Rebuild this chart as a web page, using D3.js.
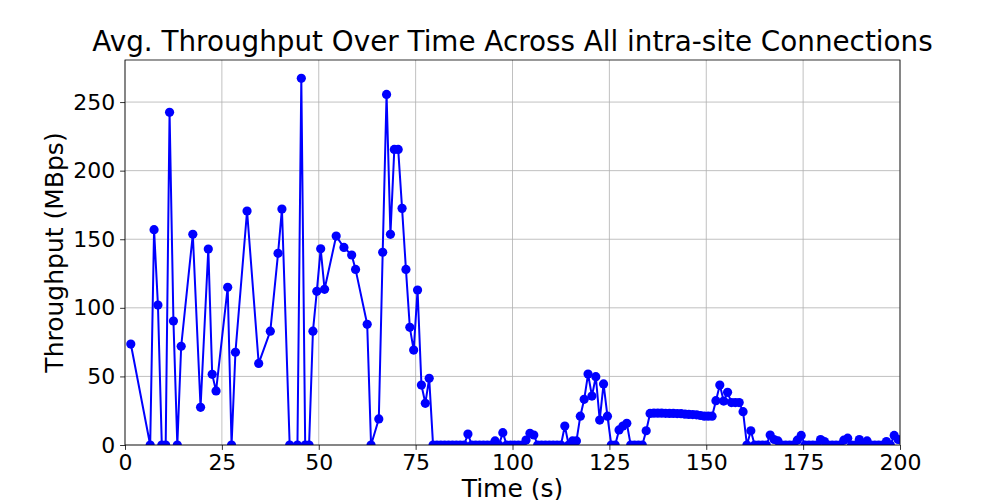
<!DOCTYPE html>
<html><head><meta charset="utf-8">
<script src="https://cdn.jsdelivr.net/npm/d3@7"></script>
<style>body{margin:0;background:#fff;} svg{display:block;font-family:"DejaVu Sans",sans-serif;}</style>
</head><body>
<svg id="c" width="1000" height="500"></svg>
<script>
const titleText = "Avg. Throughput Over Time Across All intra-site Connections";
const xLabel = "Time (s)";
const yLabel = "Throughput (MBps)";
const xTicks = [0, 25, 50, 75, 100, 125, 150, 175, 200];
const yTicks = [0, 50, 100, 150, 200, 250];
const times = [
 1.5, 6.5, 7.5, 8.5, 9.5, 10.5, 11.5, 12.5, 13.5, 14.5,
 17.5, 19.5, 21.5, 22.5, 23.5, 26.5, 27.5, 28.5, 31.5, 34.5,
 37.5, 39.5, 40.5, 42.5, 44.5, 45.5, 46.5, 47.5, 48.5, 49.5,
 50.5, 51.5, 54.5, 56.5, 58.5, 59.5, 62.5, 63.5, 65.5, 66.5,
 67.5, 68.5, 69.5, 70.5, 71.5, 72.5, 73.5, 74.5, 75.5, 76.5,
 77.5, 78.5, 79.5, 80.5, 81.5, 82.5, 83.5, 84.5, 85.5, 86.5,
 87.5, 88.5, 89.5, 90.5, 91.5, 92.5, 93.5, 94.5, 95.5, 96.5,
 97.5, 98.5, 99.5, 100.5, 101.5, 102.5, 103.5, 104.5, 105.5, 106.5,
 107.5, 108.5, 109.5, 110.5, 111.5, 112.5, 113.5, 114.5, 115.5, 116.5,
 117.5, 118.5, 119.5, 120.5, 121.5, 122.5, 123.5, 124.5, 125.5, 126.5,
 127.5, 128.5, 129.5, 130.5, 131.5, 132.5, 133.5, 134.5, 135.5, 136.5,
 137.5, 138.5, 139.5, 140.5, 141.5, 142.5, 143.5, 144.5, 145.5, 146.5,
 147.5, 148.5, 149.5, 150.5, 151.5, 152.5, 153.5, 154.5, 155.5, 156.5,
 157.5, 158.5, 159.5, 160.5, 161.5, 162.5, 163.5, 164.5, 165.5, 166.5,
 167.5, 168.5, 169.5, 170.5, 171.5, 172.5, 173.5, 174.5, 175.5, 176.5,
 177.5, 178.5, 179.5, 180.5, 181.5, 182.5, 183.5, 184.5, 185.5, 186.5,
 187.5, 188.5, 189.5, 190.5, 191.5, 192.5, 193.5, 194.5, 195.5, 196.5,
 197.5, 198.5, 199.5
];
const throughput = [
 73.6, 0, 157, 102, 0, 0, 242.5, 90.4, 0, 72,
 153.6, 27.5, 142.9, 51.5, 39.4, 115, 0, 67.6, 170.6, 59.5,
 83, 139.7, 172, 0, 0, 267.3, 0, 0, 83, 112,
 143, 113.5, 152.3, 144, 138.5, 128, 88, 0, 19, 140.5,
 255.6, 153.6, 215.5, 215.5, 172.5, 128, 85.8, 69.2, 113, 43.7,
 30.4, 48.6, 0, 0, 0, 0, 0, 0, 0, 0,
 0, 8, 0, 0, 0, 0, 0, 0, 3, 0,
 9, 0, 0, 0, 0, 0, 3.6, 8.5, 7.3, 0,
 0, 0, 0, 0, 0, 0, 13.8, 0, 3, 3,
 21, 33.3, 51.7, 35.7, 49.8, 18.2, 44.5, 21, 0, 0,
 11, 13.8, 15.8, 0, 0, 0, 0, 10.4, 23, 23.2,
 23.2, 23.2, 23.1, 23, 23, 22.9, 22.8, 22.5, 22.3, 22.2,
 22, 21.5, 21, 21, 21, 32.3, 43.7, 32, 38.4, 30.9,
 30.9, 30.9, 24.3, 0, 10.4, 0, 0, 0, 0, 7.3,
 4, 3, 0, 0, 0, 0, 3.5, 7, 0, 0,
 0, 0, 4, 2.5, 0, 0, 0, 0, 3.5, 5,
 0, 0, 4, 0, 3, 0, 0, 0, 0, 2.5,
 0, 7, 4
];
const data = times.map((t, i) => ({t, v: throughput[i]}));

const svg = d3.select("#c");
const L = 125, R = 900, T = 60, B = 445;
const x = d3.scaleLinear().domain([0, 200]).range([L, R]);
const y = d3.scaleLinear().domain([0, 280.665]).range([B, T]);

svg.append("defs").append("clipPath").attr("id", "clip")
  .append("rect").attr("x", L).attr("y", T).attr("width", R - L).attr("height", B - T);

// grid
const grid = svg.append("g");
grid.selectAll(".gx").data(xTicks).join("line")
  .attr("x1", d => x(d)).attr("x2", d => x(d)).attr("y1", T).attr("y2", B)
  .attr("stroke", "#b0b0b0").attr("stroke-width", 0.8);
grid.selectAll(".gy").data(yTicks).join("line")
  .attr("x1", L).attr("x2", R).attr("y1", d => y(d)).attr("y2", d => y(d))
  .attr("stroke", "#b0b0b0").attr("stroke-width", 0.8);

// data
const plot = svg.append("g").attr("clip-path", "url(#clip)");
plot.append("path").datum(data)
  .attr("d", d3.line().x(d => x(d.t)).y(d => y(d.v)))
  .attr("fill", "none").attr("stroke", "#0000ff").attr("stroke-width", 2)
  .attr("stroke-linejoin", "round");
plot.selectAll("circle").data(data).join("circle")
  .attr("cx", d => x(d.t)).attr("cy", d => y(d.v)).attr("r", 4.6)
  .attr("fill", "#0000ff");

// axes
const xAxis = svg.append("g").attr("transform", `translate(0,${B})`)
  .call(d3.axisBottom(x).tickValues(xTicks).tickSize(4.9).tickPadding(4.9).tickFormat(d3.format("d")));
const yAxis = svg.append("g").attr("transform", `translate(${L},0)`)
  .call(d3.axisLeft(y).tickValues(yTicks).tickSize(4.9).tickPadding(4.9).tickFormat(d3.format("d")));
[xAxis, yAxis].forEach(a => {
  a.select(".domain").remove();
  a.selectAll("text").attr("font-size", 22).attr("fill", "#000").attr("font-family", "DejaVu Sans");
  a.selectAll("line").attr("stroke", "#000").attr("stroke-width", 0.8);
});

svg.append("rect").attr("x", L).attr("y", T).attr("width", R - L).attr("height", B - T)
  .attr("fill", "none").attr("stroke", "#000").attr("stroke-width", 0.8);

svg.append("text").attr("x", (L + R) / 2).attr("y", 51).attr("text-anchor", "middle")
  .attr("font-size", 27.8).text(titleText);
svg.append("text").attr("x", (L + R) / 2).attr("y", 497).attr("text-anchor", "middle")
  .attr("font-size", 25).text(xLabel);
svg.append("text").attr("transform", `translate(63,${(T + B) / 2}) rotate(-90)`)
  .attr("text-anchor", "middle").attr("font-size", 25).text(yLabel);
</script>
</body></html>
